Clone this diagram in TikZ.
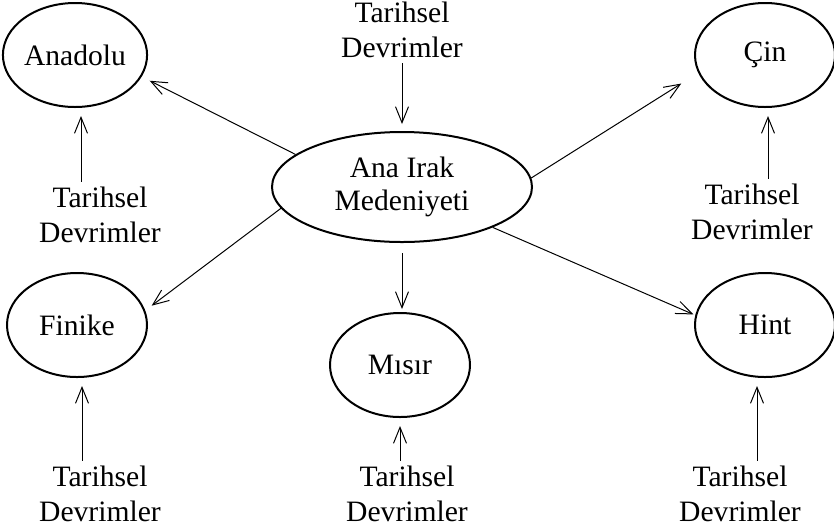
\documentclass[tikz,border=0pt]{standalone}
\usepackage{fontspec}
\setmainfont{Liberation Serif}
\usetikzlibrary{shapes.geometric,arrows.meta}

\begin{document}
\begin{tikzpicture}[x=0.5pt,y=-0.5pt,
        civ/.style={draw,ellipse,line width=1pt,inner sep=0pt,minimum width=70pt,minimum height=52pt,font=\fontsize{14.8}{16.5}\selectfont,align=center},
        lbl/.style={inner sep=2.5pt,font=\fontsize{14.8}{17.5}\selectfont,align=center},
        arr/.style={-{Straight Barb[length=8pt,width=6.5pt]},line width=0.5pt}]

        \useasboundingbox (0,0) rectangle (834,531);

        % Central civilisation
        \node[civ,minimum width=130pt,minimum height=55pt] (irak) at (402,187) {Ana Irak\\Medeniyeti};

        % Surrounding civilisations
        \node[civ] (anadolu) at (75,55) {Anadolu};
        \node[civ] (cin) at (765,55) {Çin};
        \node[civ] (finike) at (77,325) {Finike};
        \node[civ] (misir) at (400,365) {Mısır};
        \node[civ] (hint) at (765,325) {Hint};

        % Labels
        \node[lbl] (t0) at (402,30) {Tarihsel\\Devrimler};
        \foreach \name/\x/\y in {t1/100/215, t2/752/212, t3/100/494, t4/407/494, t5/740/494} {
            \node[lbl] (\name) at (\x,\y) {Tarihsel\\Devrimler};
        }

        % Spread from the centre
        \draw[arr,shorten >=4.5pt] (irak.163) -- (anadolu.-18);
        \draw[arr,shorten >=10pt] (irak.4) -- (cin.-165);
        \draw[arr,shorten >=4pt] (irak.190) -- (finike.12);
        \draw[arr,shorten >=1pt] (irak.-24) -- (hint.172);
        \draw[arr,shorten <=5pt,shorten >=1.5pt] (irak.south) -- (irak.south |- misir.north);
        \draw[arr,shorten >=3.5pt] (t0) -- (irak);

        % Labels into each civilisation
        \foreach \lab/\civ/\dx in {t1/anadolu/-9.5pt, t2/cin/8pt, t3/finike/-9pt, t4/misir/-3.5pt, t5/hint/8.5pt} {
            \draw[arr,shorten >=4pt] ([xshift=\dx]\lab.north) -- ([xshift=\dx]\lab.north |- \civ.south);
        }
    \end{tikzpicture}
\end{document}
